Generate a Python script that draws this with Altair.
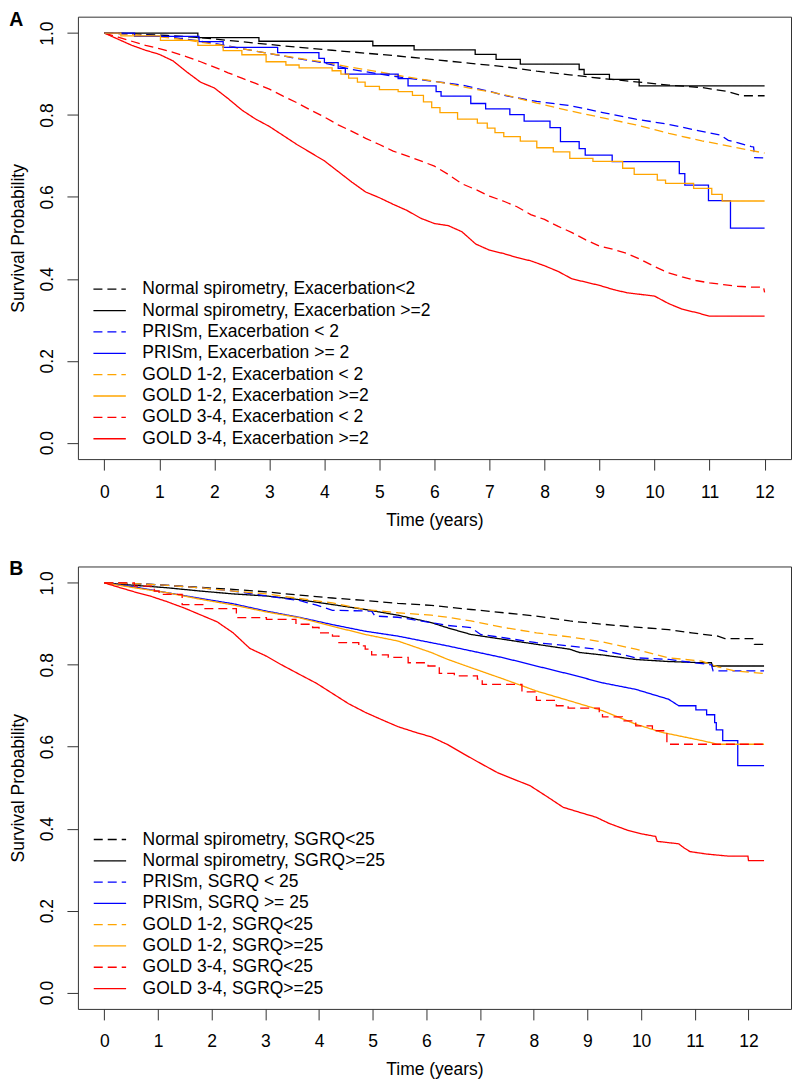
import altair as alt
import pandas as pd

FONT = "Liberation Sans"

# ---------------- Panel A (exacerbations) : time (years) / survival ----------------
a_norm_lt2_t = [0, 0.5, 1.14, 1.74, 2.34, 2.94, 3.54, 4.14, 4.74, 5.34, 5.94, 6.66, 7.26, 7.86, 8.46, 9.06, 9.66, 10.26, 10.86, 11.34, 11.58, 12.0]
a_norm_lt2_s = [1.0, 0.998, 0.994, 0.989, 0.981, 0.973, 0.965, 0.958, 0.951, 0.944, 0.936, 0.926, 0.918, 0.907, 0.898, 0.889, 0.881, 0.873, 0.867, 0.857, 0.847, 0.847]

a_norm_ge2_t = [0, 1.70, 2.81, 4.88, 5.63, 6.74, 7.12, 7.56, 8.63, 8.72, 9.18, 9.72, 12.0]
a_norm_ge2_s = [1.0, 0.989, 0.980, 0.969, 0.959, 0.948, 0.936, 0.924, 0.911, 0.899, 0.887, 0.871, 0.871]

a_prism_lt2_t = [0, 0.5, 1.0, 1.5, 2.0, 2.5, 3.0, 3.5, 4.0, 4.5, 5.0, 5.5, 6.06, 6.5, 7.02, 7.26, 7.86, 8.46, 9.06, 9.66, 10.26, 10.86, 11.2, 11.34, 11.52, 11.76, 11.8, 11.82, 12.0]
a_prism_lt2_s = [1.0, 0.997, 0.993, 0.985, 0.975, 0.962, 0.950, 0.938, 0.927, 0.911, 0.900, 0.890, 0.881, 0.873, 0.857, 0.848, 0.833, 0.823, 0.806, 0.790, 0.777, 0.760, 0.751, 0.738, 0.732, 0.723, 0.722, 0.696, 0.695]

a_prism_ge2_t = [0, 0.55, 1.72, 2.16, 3.15, 3.90, 4.00, 4.25, 4.38, 5.34, 5.52, 6.03, 6.12, 6.66, 6.93, 7.37, 7.63, 8.10, 8.29, 8.63, 8.74, 9.23, 10.45, 10.55, 10.98, 11.38, 12.0]
a_prism_ge2_s = [1.0, 0.992, 0.979, 0.965, 0.952, 0.938, 0.928, 0.914, 0.900, 0.889, 0.871, 0.857, 0.846, 0.828, 0.815, 0.801, 0.785, 0.769, 0.735, 0.718, 0.702, 0.686, 0.657, 0.629, 0.591, 0.524, 0.524]

a_g12_lt2_t = [0, 0.5, 1.0, 1.5, 2.0, 2.5, 3.0, 3.5, 4.0, 4.5, 5.0, 5.5, 6.06, 6.66, 7.26, 7.86, 8.46, 9.06, 9.66, 10.26, 10.86, 11.46, 12.0]
a_g12_lt2_s = [1.0, 0.997, 0.991, 0.983, 0.973, 0.962, 0.950, 0.939, 0.929, 0.916, 0.905, 0.893, 0.881, 0.865, 0.850, 0.829, 0.810, 0.793, 0.776, 0.755, 0.737, 0.721, 0.707]

a_g12_ge2_t = [0, 0.3, 1.02, 1.70, 2.16, 2.5, 2.94, 3.3, 3.54, 4.14, 4.3, 4.44, 4.6, 4.74, 5.0, 5.34, 5.6, 5.8, 5.95, 6.1, 6.42, 6.78, 6.96, 7.1, 7.26, 7.56, 7.86, 8.16, 8.46, 8.88, 9.42, 9.63, 10.05, 10.2, 10.71, 11.04, 11.23, 12.0]
a_g12_ge2_s = [1.0, 0.993, 0.982, 0.970, 0.957, 0.947, 0.930, 0.922, 0.915, 0.908, 0.900, 0.890, 0.880, 0.870, 0.862, 0.857, 0.848, 0.832, 0.818, 0.806, 0.790, 0.780, 0.768, 0.757, 0.747, 0.736, 0.720, 0.710, 0.694, 0.687, 0.670, 0.655, 0.641, 0.633, 0.621, 0.606, 0.590, 0.590]

a_g34_lt2_t = [0, 0.25, 0.5, 0.75, 1.0, 1.25, 1.5, 1.75, 2.0, 2.25, 2.5, 2.75, 3.0, 3.25, 3.5, 3.75, 4.0, 4.25, 4.5, 4.75, 5.0, 5.25, 5.5, 5.75, 6.0, 6.25, 6.5, 6.75, 7.0, 7.25, 7.5, 7.75, 8.0, 8.25, 8.5, 8.75, 9.0, 9.25, 9.5, 9.75, 10.0, 10.25, 10.5, 10.75, 11.0, 11.25, 11.5, 11.75, 11.98, 12.0]
a_g34_lt2_s = [1.0, 0.99, 0.980, 0.970, 0.962, 0.953, 0.942, 0.930, 0.917, 0.903, 0.890, 0.877, 0.863, 0.846, 0.830, 0.812, 0.795, 0.776, 0.760, 0.743, 0.728, 0.712, 0.700, 0.688, 0.675, 0.655, 0.632, 0.618, 0.602, 0.590, 0.576, 0.557, 0.545, 0.528, 0.513, 0.495, 0.480, 0.472, 0.462, 0.447, 0.430, 0.415, 0.405, 0.396, 0.390, 0.386, 0.382, 0.380, 0.380, 0.367]

a_g34_ge2_t = [0, 0.25, 0.5, 0.75, 1.0, 1.25, 1.5, 1.75, 2.0, 2.25, 2.5, 2.75, 3.0, 3.25, 3.5, 3.75, 4.0, 4.25, 4.5, 4.75, 5.0, 5.25, 5.5, 5.75, 6.0, 6.25, 6.5, 6.75, 7.0, 7.25, 7.5, 7.75, 8.0, 8.25, 8.5, 8.75, 9.0, 9.25, 9.5, 9.75, 10.0, 10.25, 10.5, 10.75, 11.0, 12.0]
a_g34_ge2_s = [1.0, 0.985, 0.970, 0.958, 0.948, 0.932, 0.905, 0.880, 0.866, 0.840, 0.812, 0.790, 0.772, 0.750, 0.728, 0.708, 0.688, 0.662, 0.636, 0.612, 0.598, 0.582, 0.567, 0.548, 0.535, 0.530, 0.515, 0.485, 0.470, 0.462, 0.452, 0.444, 0.432, 0.418, 0.400, 0.392, 0.384, 0.374, 0.366, 0.362, 0.358, 0.340, 0.326, 0.318, 0.309, 0.309]

labels_a = [
    "Normal spirometry, Exacerbation<2",
    "Normal spirometry, Exacerbation >=2",
    "PRISm, Exacerbation < 2",
    "PRISm, Exacerbation >= 2",
    "GOLD 1-2, Exacerbation < 2",
    "GOLD 1-2, Exacerbation >=2",
    "GOLD 3-4, Exacerbation < 2",
    "GOLD 3-4, Exacerbation >=2",
]

# ---------------- Panel B (SGRQ) ----------------
b_norm_lt25_t = [0, 0.56, 1.17, 1.79, 2.40, 3.02, 3.63, 4.25, 4.86, 5.47, 6.09, 6.83, 7.44, 8.05, 8.67, 9.28, 9.90, 10.51, 10.94, 11.43, 11.56, 12.08, 12.11, 12.29]
b_norm_lt25_s = [1.0, 0.998, 0.994, 0.989, 0.984, 0.978, 0.970, 0.963, 0.957, 0.950, 0.945, 0.935, 0.927, 0.919, 0.907, 0.899, 0.892, 0.886, 0.878, 0.870, 0.864, 0.864, 0.850, 0.850]

b_norm_ge25_t = [0, 0.56, 1.17, 1.79, 2.40, 3.02, 3.63, 4.25, 4.86, 5.47, 6.09, 6.40, 6.83, 7.44, 8.05, 8.67, 8.85, 9.28, 9.90, 10.51, 11.13, 11.31, 11.33, 12.29]
b_norm_ge25_s = [1.0, 0.994, 0.988, 0.980, 0.973, 0.968, 0.959, 0.947, 0.935, 0.921, 0.903, 0.890, 0.874, 0.862, 0.850, 0.838, 0.830, 0.824, 0.813, 0.808, 0.805, 0.805, 0.797, 0.797]

b_prism_lt25_t = [0, 0.56, 1.17, 1.79, 2.40, 3.02, 3.63, 3.94, 4.25, 4.98, 5.04, 5.47, 6.09, 6.40, 6.83, 7.01, 7.44, 8.05, 8.67, 9.16, 9.65, 9.90, 10.51, 10.99, 11.31, 11.34, 12.29]
b_prism_lt25_s = [1.0, 0.998, 0.994, 0.988, 0.980, 0.968, 0.957, 0.946, 0.933, 0.931, 0.919, 0.916, 0.903, 0.896, 0.891, 0.874, 0.866, 0.854, 0.846, 0.838, 0.825, 0.817, 0.813, 0.805, 0.800, 0.785, 0.785]

b_prism_ge25_t = [0, 0.56, 1.17, 1.79, 2.40, 3.02, 3.63, 4.25, 4.86, 5.47, 6.09, 6.40, 6.83, 7.44, 8.05, 8.67, 9.28, 9.90, 10.51, 10.70, 11.02, 11.02, 11.22, 11.22, 11.37, 11.37, 11.40, 11.40, 11.52, 11.52, 11.80, 11.80, 12.29]
b_prism_ge25_s = [1.0, 0.990, 0.976, 0.962, 0.949, 0.931, 0.916, 0.898, 0.882, 0.870, 0.854, 0.846, 0.834, 0.817, 0.797, 0.777, 0.756, 0.740, 0.716, 0.700, 0.700, 0.690, 0.690, 0.678, 0.678, 0.659, 0.659, 0.641, 0.641, 0.615, 0.615, 0.554, 0.554]

b_g12_lt25_t = [0, 0.56, 1.17, 1.79, 2.40, 3.02, 3.63, 4.25, 4.86, 5.47, 6.09, 6.40, 6.83, 7.44, 8.05, 8.67, 9.28, 9.90, 10.51, 11.13, 11.43, 11.74, 12.29]
b_g12_lt25_s = [1.0, 0.998, 0.994, 0.988, 0.980, 0.973, 0.962, 0.951, 0.935, 0.927, 0.921, 0.916, 0.907, 0.891, 0.878, 0.868, 0.856, 0.838, 0.817, 0.809, 0.795, 0.785, 0.779]

b_g12_ge25_t = [0, 0.56, 1.17, 1.79, 2.40, 3.02, 3.63, 4.25, 4.86, 5.47, 6.09, 6.40, 6.83, 7.44, 8.05, 8.67, 9.28, 9.90, 10.39, 11.13, 11.43, 12.29]
b_g12_ge25_s = [1.0, 0.988, 0.976, 0.960, 0.946, 0.929, 0.915, 0.894, 0.874, 0.858, 0.830, 0.813, 0.793, 0.765, 0.736, 0.712, 0.688, 0.655, 0.635, 0.615, 0.606, 0.606]

b_g34_lt25_t = [0, 0.56, 0.93, 1.02, 1.45, 1.85, 2.46, 3.02, 3.57, 3.88, 4.00, 4.25, 4.37, 4.74, 4.86, 4.98, 5.29, 5.66, 6.03, 6.24, 6.52, 6.95, 7.04, 7.78, 8.05, 8.42, 8.64, 9.22, 9.28, 9.65, 9.90, 10.21, 10.42, 10.48, 12.29]
b_g34_lt25_s = [1.0, 0.992, 0.980, 0.972, 0.947, 0.937, 0.915, 0.911, 0.899, 0.891, 0.878, 0.870, 0.854, 0.846, 0.838, 0.824, 0.818, 0.805, 0.797, 0.779, 0.773, 0.765, 0.752, 0.734, 0.713, 0.700, 0.694, 0.686, 0.673, 0.663, 0.651, 0.639, 0.631, 0.606, 0.606]

b_g34_ge25_t = [0, 0.25, 0.56, 0.85, 1.17, 1.5, 1.79, 2.1, 2.4, 2.71, 3.02, 3.3, 3.63, 3.95, 4.25, 4.55, 4.86, 5.15, 5.47, 5.8, 6.09, 6.4, 6.7, 7.0, 7.32, 7.6, 7.93, 8.25, 8.55, 8.85, 9.16, 9.4, 9.77, 10.02, 10.27, 10.3, 10.7, 10.8, 10.91, 11.22, 11.62, 11.99, 12.0, 12.29]
b_g34_ge25_s = [1.0, 0.99, 0.978, 0.968, 0.954, 0.938, 0.922, 0.905, 0.878, 0.840, 0.821, 0.800, 0.777, 0.755, 0.730, 0.705, 0.684, 0.667, 0.649, 0.635, 0.624, 0.605, 0.582, 0.560, 0.537, 0.522, 0.505, 0.478, 0.452, 0.440, 0.428, 0.413, 0.395, 0.387, 0.381, 0.369, 0.363, 0.353, 0.344, 0.338, 0.333, 0.333, 0.322, 0.322]

labels_b = [
    "Normal spirometry, SGRQ<25",
    "Normal spirometry, SGRQ>=25",
    "PRISm, SGRQ < 25",
    "PRISm, SGRQ >= 25",
    "GOLD 1-2, SGRQ<25",
    "GOLD 1-2, SGRQ>=25",
    "GOLD 3-4, SGRQ<25",
    "GOLD 3-4, SGRQ>=25",
]

x_ticks = list(range(0, 13))
y_ticks = [0.0, 0.2, 0.4, 0.6, 0.8, 1.0]

# ---------------- styles ----------------
colors = ["#000000", "#000000", "#0000FF", "#0000FF", "#FFA500", "#FFA500", "#FF0000", "#FF0000"]
dashes = [[9, 5], [1, 0], [9, 5], [1, 0], [9, 5], [1, 0], [9, 5], [1, 0]]

series_a = [(a_norm_lt2_t, a_norm_lt2_s), (a_norm_ge2_t, a_norm_ge2_s), (a_prism_lt2_t, a_prism_lt2_s),
            (a_prism_ge2_t, a_prism_ge2_s), (a_g12_lt2_t, a_g12_lt2_s), (a_g12_ge2_t, a_g12_ge2_s),
            (a_g34_lt2_t, a_g34_lt2_s), (a_g34_ge2_t, a_g34_ge2_s)]
steps_a = [False, True, False, True, False, True, False, False]

series_b = [(b_norm_lt25_t, b_norm_lt25_s), (b_norm_ge25_t, b_norm_ge25_s), (b_prism_lt25_t, b_prism_lt25_s),
            (b_prism_ge25_t, b_prism_ge25_s), (b_g12_lt25_t, b_g12_lt25_s), (b_g12_ge25_t, b_g12_ge25_s),
            (b_g34_lt25_t, b_g34_lt25_s), (b_g34_ge25_t, b_g34_ge25_s)]
steps_b = [False, False, False, False, False, False, True, False]

W, H = 714, 443
FS = 17.5


def frames(series, labels, steps):
    lin, stp = [], []
    for k, ((ts, ss), lab, st) in enumerate(zip(series, labels, steps)):
        for i, (t, s) in enumerate(zip(ts, ss)):
            row = {"series": lab, "k": k, "i": k * 1000 + i, "t": t, "s": s}
            (stp if st else lin).append(row)
    return pd.DataFrame(lin), pd.DataFrame(stp)


def panel(series, labels, steps, xdom, letter, leg_y0, leg_dy, leg_x1, leg_x2, leg_tx):
    lin_df, stp_df = frames(series, labels, steps)
    xscale = alt.Scale(domain=xdom, nice=False, zero=False)
    yscale = alt.Scale(domain=[-0.04, 1.04], nice=False, zero=False)
    xaxis = alt.Axis(values=x_ticks, format="d", grid=False, domain=False,
                     tickSize=11, tickColor="#333", tickWidth=1,
                     labelFont=FONT, labelFontSize=FS, labelColor="#000",
                     labelBaseline="alphabetic", labelPadding=27, labelFlush=False, labelOverlap=False,
                     title="Time (years)", titleFont=FONT, titleFontSize=FS, titleFontWeight="normal",
                     titleColor="#000", titleBaseline="alphabetic", titleAlign="center",
                     titleX=W / 2, titleY=66)
    yaxis = alt.Axis(values=y_ticks, format=".1f", grid=False, domain=False,
                     tickSize=11, tickColor="#333", tickWidth=1,
                     labelFont=FONT, labelFontSize=FS, labelColor="#000",
                     labelAngle=270, labelAlign="center", labelBaseline="alphabetic",
                     labelPadding=14, labelFlush=False, labelOverlap=False,
                     title="Survival Probability", titleFont=FONT, titleFontSize=FS,
                     titleFontWeight="normal", titleColor="#000", titleAngle=270,
                     titleAlign="center", titleBaseline="alphabetic",
                     titleX=-54.7, titleY=H / 2)
    color = alt.Color("series:N", scale=alt.Scale(domain=labels, range=colors), legend=None)
    dash = alt.StrokeDash("series:N", scale=alt.Scale(domain=labels, range=dashes), legend=None)

    def X(f):
        return alt.X(f, type="quantitative", scale=xscale, axis=xaxis)

    def Y(f):
        return alt.Y(f, type="quantitative", scale=yscale, axis=yaxis)

    lin = alt.Chart(lin_df).mark_line(interpolate="linear", strokeWidth=1.3).encode(
        x=X("t"), y=Y("s"), color=color, strokeDash=dash, detail="series:N",
        order=alt.Order("i:Q"))
    stp = alt.Chart(stp_df).mark_line(interpolate="step-after", strokeWidth=1.3).encode(
        x=X("t"), y=Y("s"), color=color, strokeDash=dash, detail="series:N",
        order=alt.Order("i:Q"))

    leg_df = pd.DataFrame({
        "series": labels,
        "y": [leg_y0 - j * leg_dy for j in range(len(labels))],
        "x1": [leg_x1] * len(labels),
        "x2": [leg_x2] * len(labels),
        "tx": [leg_tx] * len(labels),
    })
    leg_rule = alt.Chart(leg_df).mark_rule(strokeWidth=1.3).encode(
        x=X("x1"), x2="x2:Q", y=Y("y"), color=color, strokeDash=dash)
    leg_text = alt.Chart(leg_df).mark_text(align="left", baseline="middle", font=FONT,
                                           fontSize=FS, color="#000").encode(
        x=X("tx"), y=Y("y"), text="series:N")
    let = alt.Chart(pd.DataFrame({"lab": [letter]})).mark_text(
        align="left", baseline="alphabetic", font=FONT, fontSize=19.5, fontWeight="bold",
        color="#000").encode(x=alt.value(-68.7), y=alt.value(9), text="lab:N")
    return alt.layer(lin, stp, leg_rule, leg_text, let).properties(width=W, height=H)


pa = panel(series_a, labels_a, steps_a, [-0.48, 12.48], "A",
           0.3747, 0.05214, -0.198, 0.391, 0.691)
pb = panel(series_b, labels_b, steps_b, [-0.492, 12.792], "B",
           0.3735, 0.05197, -0.197, 0.406, 0.713)

chart = alt.vconcat(pa, pb, spacing=29.5).properties(
    padding={"left": 0, "top": 0, "right": 0, "bottom": 0},
    background="white",
).configure_view(stroke="#333", strokeWidth=1)

chart.save("out.html", embed_options={"renderer": "svg", "actions": False})
